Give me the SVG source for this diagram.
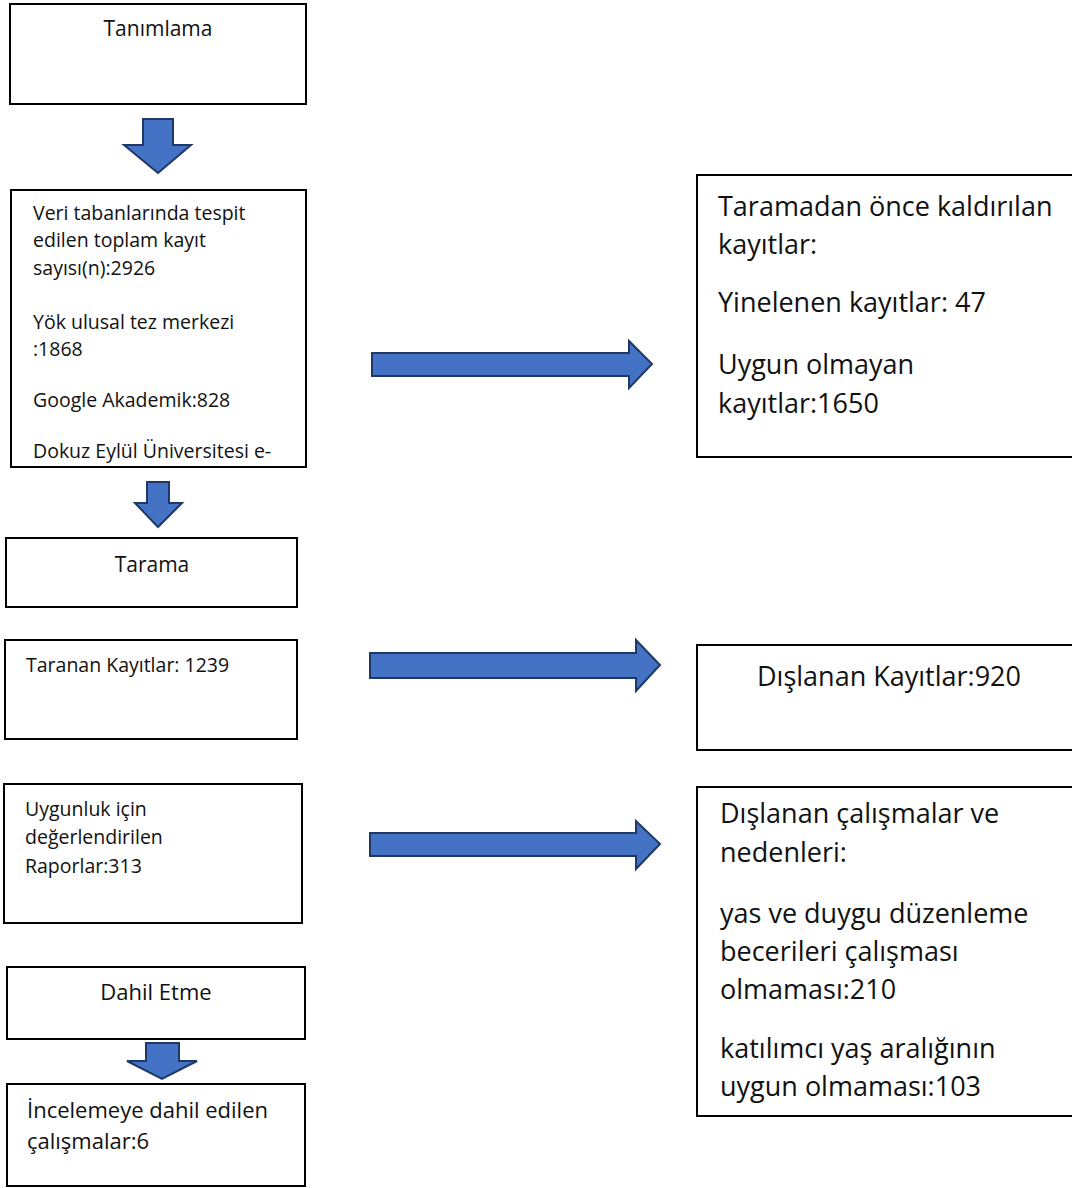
<svg xmlns="http://www.w3.org/2000/svg" width="1072" height="1188" viewBox="0 0 1072 1188">
<style>
.box{fill:#fff;stroke:#000;stroke-width:2}
.arr{fill:#4472C4;stroke:#1F3864;stroke-width:2;stroke-linejoin:miter}
text{font-family:"Open Sans","Liberation Sans",sans-serif;fill:#111}
.s{font-size:19.5px}
.m{font-size:21px}
.m2{font-size:22px}
.l{font-size:27px}
</style>
<rect width="1072" height="1188" fill="#fff"/>
<g id="connectors">
<polygon class="arr" points="143,119 173,119 173,145 191,145 158,173 124,145 143,145"/>
<polygon class="arr" points="147,482 169,482 169,503 182,503 158,527 135,503 147,503"/>
<polygon class="arr" points="146,1043 179,1043 179,1061 197,1061 162,1079 127,1061 146,1061"/>
<polygon class="arr" points="372,353 629,353 629,341 652,364 629,388 629,376 372,376"/>
<polygon class="arr" points="370,653 636,653 636,640 660,665 636,691 636,678 370,678"/>
<polygon class="arr" points="370,833 636,833 636,821 660,844 636,869 636,856 370,856"/>
</g>
<g id="n1"><rect class="box" x="10" y="4" width="296" height="100"/><text class="m" x="158" y="36" text-anchor="middle">Tanımlama</text></g>
<g id="n2"><rect class="box" x="11" y="190" width="295" height="277"/>
<text class="s"><tspan x="33" y="220">Veri tabanlarında tespit</tspan><tspan x="33" y="247">edilen toplam kayıt</tspan><tspan x="33" y="275">sayısı(n):2926</tspan><tspan x="33" y="329">Yök ulusal tez merkezi</tspan><tspan x="33" y="356">:1868</tspan><tspan x="33" y="407">Google Akademik:828</tspan><tspan x="33" y="458">Dokuz Eylül Üniversitesi e-</tspan></text></g>
<g id="n3"><rect class="box" x="6" y="538" width="291" height="69"/><text class="m" x="152" y="572" text-anchor="middle">Tarama</text></g>
<g id="n4"><rect class="box" x="5" y="640" width="292" height="99"/><text class="s" x="26" y="672">Taranan Kayıtlar: 1239</text></g>
<g id="n5"><rect class="box" x="4" y="784" width="298" height="139"/>
<text class="s"><tspan x="25" y="816">Uygunluk için</tspan><tspan x="25" y="844">değerlendirilen</tspan><tspan x="25" y="873">Raporlar:313</tspan></text></g>
<g id="n6"><rect class="box" x="7" y="967" width="298" height="72"/><text class="m2" x="156" y="1000" text-anchor="middle">Dahil Etme</text></g>
<g id="n7"><rect class="box" x="7" y="1084" width="298" height="102"/>
<text class="m2"><tspan x="27" y="1118">İncelemeye dahil edilen</tspan><tspan x="27" y="1149">çalışmalar:6</tspan></text></g>
<g id="r1"><rect class="box" x="697" y="175" width="380" height="282"/>
<text class="l"><tspan x="718" y="216">Taramadan önce kaldırılan</tspan><tspan x="718" y="254">kayıtlar:</tspan><tspan x="718" y="312">Yinelenen kayıtlar: 47</tspan><tspan x="718" y="374">Uygun olmayan</tspan><tspan x="718" y="413">kayıtlar:1650</tspan></text></g>
<g id="r2"><rect class="box" x="697" y="645" width="380" height="105"/><text class="l" x="889" y="686" text-anchor="middle">Dışlanan Kayıtlar:920</text></g>
<g id="r3"><rect class="box" x="697" y="787" width="380" height="329"/>
<text class="l"><tspan x="720" y="823">Dışlanan çalışmalar ve</tspan><tspan x="720" y="862">nedenleri:</tspan><tspan x="720" y="923">yas ve duygu düzenleme</tspan><tspan x="720" y="961">becerileri çalışması</tspan><tspan x="720" y="999">olmaması:210</tspan><tspan x="720" y="1058">katılımcı yaş aralığının</tspan><tspan x="720" y="1096">uygun olmaması:103</tspan></text></g>
</svg>
